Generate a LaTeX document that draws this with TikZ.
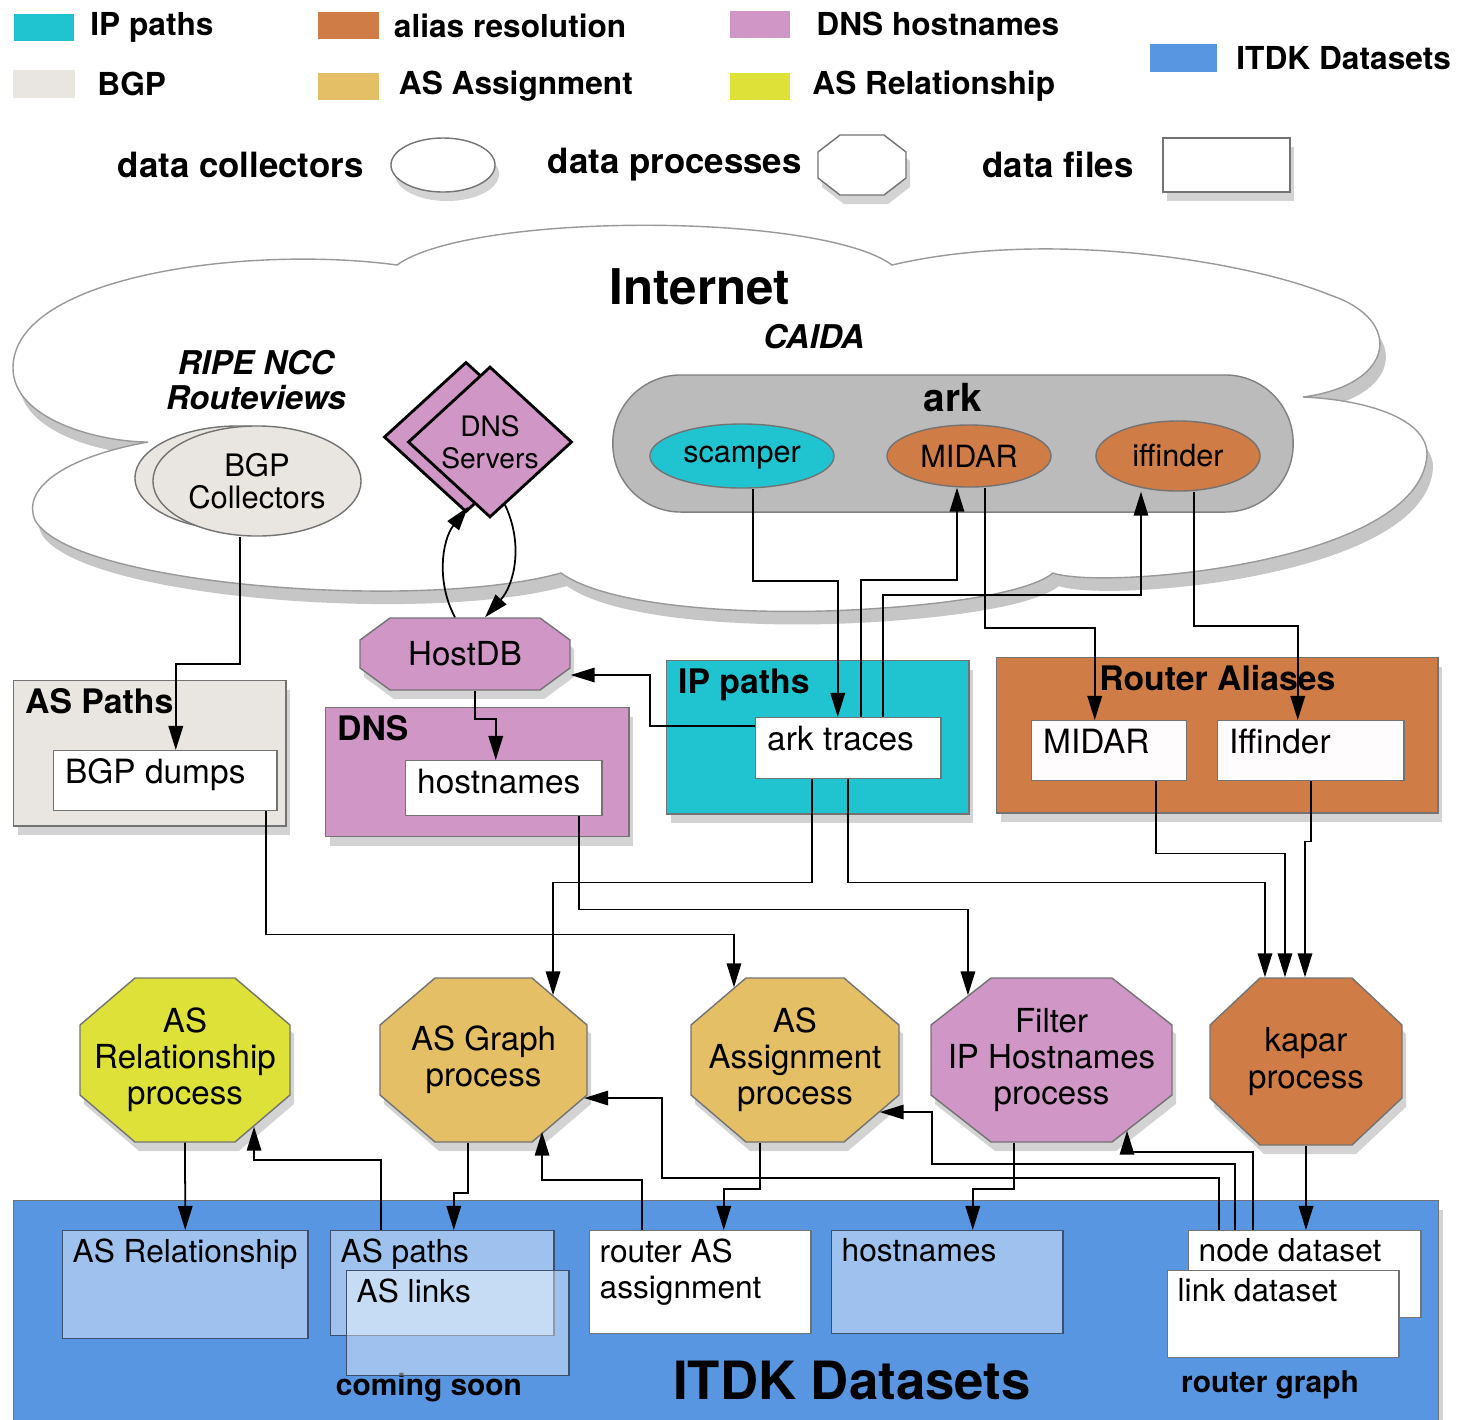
\documentclass[tikz,border=0pt]{standalone}
\usepackage{fontspec}
\setmainfont{TeX Gyre Heros}
\usepackage{tikz}
\usetikzlibrary{shapes.geometric}
\usetikzlibrary{shadows}
\usetikzlibrary{positioning}
\usetikzlibrary{arrows.meta}

\definecolor{ipcyan}{RGB}{32,196,209}
\definecolor{bgpgray}{RGB}{233,229,224}
\definecolor{aliasorange}{RGB}{207,124,70}
\definecolor{asatan}{RGB}{228,191,101}
\definecolor{dnspink}{RGB}{207,150,198}
\definecolor{relyellow}{RGB}{221,225,56}
\definecolor{itdkblue}{RGB}{89,150,225}
\definecolor{arkgray}{RGB}{187,187,187}
\definecolor{edgegray}{RGB}{115,115,115}
\definecolor{setedge}{RGB}{60,80,110}

\newcommand{\legfont}{\bfseries\fontsize{9}{10}\selectfont}
\newcommand{\keyfont}{\bfseries\fontsize{9.9}{11}\selectfont}
\newcommand{\boxfont}{\fontsize{9.5}{10.5}\selectfont}
\newcommand{\setfont}{\fontsize{9}{10.3}\selectfont}
\newcommand{\procfont}{\fontsize{9.4}{10.3}\selectfont}
\newcommand{\titlefont}{\bfseries\fontsize{9.6}{11}\selectfont}
\newcommand{\orgfont}{\bfseries\itshape\fontsize{9.3}{10}\selectfont}
\newcommand{\bigfont}{\bfseries\fontsize{14}{16}\selectfont}
\newcommand{\hugefont}{\bfseries\fontsize{15}{17}\selectfont}
\newcommand{\notefont}{\bfseries\fontsize{8.5}{10}\selectfont}
\newcommand{\arkfont}{\bfseries\fontsize{11}{12}\selectfont}
\newcommand{\ellfont}{\fontsize{8.7}{10}\selectfont}
\newcommand{\collfont}{\fontsize{8.8}{9.1}\selectfont}
\newcommand{\srvfont}{\fontsize{8}{9.1}\selectfont}

% octagon: name, fill, x, y, half width, half height, chamfer x, chamfer y, text
\newcommand{\octa}[9]{%
  \path[draw=edgegray,fill=#2,dshadow,shift={(#3,#4)}]
    (-#5+#7,-#6) -- (#5-#7,-#6) -- (#5,-#6+#8) -- (#5,#6-#8)
    -- (#5-#7,#6) -- (-#5+#7,#6) -- (-#5,#6-#8) -- (-#5,-#6+#8) -- cycle;
  \node[proctext,minimum width={2*#5*0.01cm},minimum height={2*#6*0.01cm}] (#1) at (#3,#4) {#9};}

\begin{document}
\begin{tikzpicture}[x=0.01cm,y=-0.01cm,
	>={Triangle[length=2.4mm,width=1.45mm]},
	every node/.style={font=\boxfont},
	dshadow/.style={drop shadow={shadow xshift=0.4mm,shadow yshift=-0.9mm,opacity=0.35}},
	swatch/.style={fill=#1,minimum width=0.6cm,minimum height=0.27cm,inner sep=0},
	legtext/.style={font=\legfont,inner sep=0},
	keytext/.style={font=\keyfont,inner sep=0},
	container/.style={draw=edgegray,fill=#1,anchor=north west,inner sep=0,dshadow},
	datafile/.style={draw=edgegray,fill=white,anchor=north west,inner sep=0},
	dataset/.style={draw=setedge,fill=white,fill opacity=0.42,text opacity=1,anchor=north west,inner sep=0},
	dtext/.style={anchor=north west,inner xsep=1.15mm,inner ysep=0.8mm,align=left,text opacity=1},
	ttext/.style={dtext,font=\titlefont},
	stext/.style={dtext,inner xsep=1mm,font=\setfont},
	collector/.style={ellipse,draw=edgegray,fill=#1,inner sep=0},
	server/.style={diamond,draw=black,line width=0.8pt,fill=dnspink,inner sep=0,
		minimum width=1.64cm,minimum height=1.5cm},
	proctext/.style={rectangle,inner sep=0,align=center,font=\procfont},
	wire/.style={->,line width=0.5pt}]

	\useasboundingbox (0,0) rectangle (1465,1420);

	% the Internet cloud
	\path[draw=gray!80,fill=white,drop shadow={shadow xshift=0.6mm,shadow yshift=-1.3mm,opacity=0.45}] (397,265)
		.. controls (250,245) and (13,275) .. (13,368)
		.. controls (13,420) and (100,442) .. (148,442)
		.. controls (60,458) and (22,490) .. (35,520)
		.. controls (70,585) and (420,612) .. (561,573)
		.. controls (610,608) and (750,615) .. (850,610)
		.. controls (950,605) and (1030,592) .. (1053,573)
		.. controls (1100,590) and (1420,565) .. (1427,455)
		.. controls (1428,420) and (1370,400) .. (1303,397)
		.. controls (1395,385) and (1405,320) .. (1330,295)
		.. controls (1250,262) and (1050,228) .. (892,265)
		.. controls (820,212) and (470,212) .. (397,265) -- cycle;

	\node[font=\bigfont] (internet) at (700,287) {Internet};
	\node[font=\orgfont] (caida) at (814,337) {CAIDA};
	\node[font=\orgfont,align=center] (ripe) at (256,380) {RIPE NCC\\Routeviews};

	% ark monitors
	\node[draw=gray,fill=arkgray,rounded corners=6.8mm,minimum width=6.8cm,
		minimum height=1.37cm,inner sep=0] (ark) at (953,443.5) {};
	\node[font=\arkfont] (arkt) at (953,398) {ark};
	\node[collector=ipcyan,minimum width=1.84cm,minimum height=0.64cm,font=\ellfont,text depth=0.2ex] (scamper) at (742,456) {scamper};
	\node[collector=aliasorange,minimum width=1.64cm,minimum height=0.62cm,font=\ellfont] (midar) at (969,456) {MIDAR};
	\node[collector=aliasorange,minimum width=1.64cm,minimum height=0.7cm,font=\ellfont] (iffinder) at (1178,456) {iffinder};

	% collectors and servers
	\node[collector=bgpgray,minimum width=2.06cm,minimum height=1.04cm] (bgpback) at (238,478) {};
	\node[collector=bgpgray,minimum width=2.08cm,minimum height=1.1cm,align=center,font=\collfont] (bgpcoll) at (257,481) {BGP\\Collectors};
	\node[server] (dnsback) at (466,437) {};
	\node[server,align=center,font=\srvfont] (dnsfront) at (490,442) {DNS\\Servers};

	\octa{hostdb}{dnspink}{465}{654}{105}{36}{30}{22}{HostDB}

	% data sources
	\node[container=bgpgray,minimum width=2.72cm,minimum height=1.45cm,
		label={[ttext]north west:AS Paths}] (aspaths) at (13,680) {};
	\node[container=dnspink,minimum width=3.03cm,minimum height=1.29cm,
		label={[ttext]north west:DNS}] (dns) at (325,707) {};
	\node[container=ipcyan,minimum width=3.02cm,minimum height=1.53cm,
		label={[ttext]north west:IP paths}] (ippaths) at (666,660) {};
	\node[container=aliasorange,minimum width=4.41cm,minimum height=1.55cm,
		label={[ttext,anchor=north]north:Router Aliases}] (aliases) at (996,657) {};

	\node[datafile,minimum width=2.23cm,minimum height=0.6cm,label={[dtext]north west:BGP dumps}] (bgpdumps) at (53,750) {};
	\node[datafile,minimum width=1.96cm,minimum height=0.55cm,label={[dtext]north west:hostnames}] (hostnames) at (405,760) {};
	\node[datafile,minimum width=1.85cm,minimum height=0.61cm,label={[dtext]north west:ark traces}] (arktraces) at (755,717) {};
	\node[datafile,fill=white!97!dnspink,minimum width=1.55cm,minimum height=0.6cm,label={[dtext]north west:MIDAR}] (midarf) at (1031,720) {};
	\node[datafile,fill=white!97!dnspink,minimum width=1.86cm,minimum height=0.6cm,label={[dtext]north west:Iffinder}] (iffinderf) at (1217,720) {};

	% processes
	\octa{asrelp}{relyellow}{185}{1060}{105}{82}{55}{47}{AS\\Relationship\\process}
	\octa{asgraph}{asatan}{483.5}{1060}{103.5}{82}{55}{47}{AS Graph\\process}
	\octa{asassign}{asatan}{795}{1060}{104}{82}{55}{47}{AS\\Assignment\\process}
	\octa{filterp}{dnspink}{1051.5}{1060}{120.5}{82}{60}{47}{Filter\\IP Hostnames\\process}
	\octa{kapar}{aliasorange}{1306}{1061.5}{96}{83.5}{50}{47}{kapar\\process}

	% ITDK datasets
	\node[container=itdkblue,minimum width=14.24cm,minimum height=2.35cm] (itdk) at (13,1200) {};
	\node[font=\hugefont] (itdkt) at (852,1380) {ITDK Datasets};
	\node[font=\notefont] (soon) at (429,1388) {coming soon};
	\node[font=\notefont] (rgraph) at (1270,1385) {router graph};

	\node[dataset,minimum width=2.45cm,minimum height=1.08cm,label={[stext]north west:AS Relationship}] (asreld) at (62,1230) {};
	\node[dataset,minimum width=2.23cm,minimum height=1.05cm,label={[stext]north west:AS paths}] (aspathd) at (330,1230) {};
	\node[dataset,minimum width=2.22cm,minimum height=1.05cm,label={[stext]north west:AS links}] (aslinks) at (346,1270) {};
	\node[datafile,minimum width=2.21cm,minimum height=1.03cm,label={[stext]north west:router AS\\assignment}] (routerasd) at (589,1230) {};
	\node[dataset,minimum width=2.31cm,minimum height=1.03cm,label={[stext]north west:hostnames}] (hostd) at (831,1230) {};
	\node[datafile,minimum width=2.32cm,minimum height=0.87cm,label={[stext]north west:node dataset}] (noded) at (1188,1230) {};
	\node[datafile,minimum width=2.31cm,minimum height=0.87cm,label={[stext]north west:link dataset}] (linkd) at (1167,1270) {};

	% legend
	\node[swatch=ipcyan] (lip) at (44,27) {};
	\node[legtext,right=0.15cm of lip] (lipt) {IP paths};
	\node[swatch=bgpgray,minimum width=0.62cm,minimum height=0.28cm] (lbgp) at (44,84) {};
	\node[legtext,right=0.21cm of lbgp] (lbgpt) {BGP};
	\node[swatch=aliasorange] (lalias) at (348.5,25.5) {};
	\node[legtext,right=0.14cm of lalias] (laliast) {alias resolution};
	\node[swatch=asatan] (lasa) at (348.5,86.5) {};
	\node[legtext,right=0.19cm of lasa] (lasat) {AS Assignment};
	\node[swatch=dnspink] (ldns) at (760,24) {};
	\node[legtext,right=0.25cm of ldns] (ldnst) {DNS hostnames};
	\node[swatch=relyellow] (lrel) at (760,86.5) {};
	\node[legtext,right=0.21cm of lrel] (lrelt) {AS Relationship};
	\node[swatch=itdkblue,minimum width=0.67cm,minimum height=0.28cm] (litdk) at (1183.5,58) {};
	\node[legtext,right=0.18cm of litdk] (litdkt) {ITDK Datasets};

	\node[collector=white,minimum width=1.04cm,minimum height=0.54cm,dshadow] (lcoll) at (443,165) {};
	\node[keytext,left=0.26cm of lcoll] (lcollt) {data collectors};
	\octa{lproc}{white}{862}{165}{44}{30}{22}{17}{}
	\node[keytext,left=0.15cm of lproc] (lproct) {data processes};
	\node[draw=edgegray,fill=white,minimum width=1.27cm,minimum height=0.54cm,inner sep=0,dshadow] (lfile) at (1226.5,165) {};
	\node[keytext,left=0.28cm of lfile] (lfilet) {data files};

	% connectors
	\draw[wire] ([xshift=-1.7mm]bgpcoll.south) -- ++(0,127) -| ([xshift=1.05mm]bgpdumps.north);
	\draw[wire] ([xshift=-1mm]hostdb.north) .. controls (436,582) and (442,540) .. ([xshift=-2.2mm,yshift=1.2mm]dnsfront.south);
	\draw[wire] ([xshift=1.5mm,yshift=1.4mm]dnsfront.south) .. controls (524,545) and (514,585) .. ([xshift=2mm]hostdb.north);
	\draw[wire] ([xshift=1mm]hostdb.south) -- ++(0,28) -| ([xshift=-0.8mm]hostnames.north);
	\draw[wire] ([yshift=2.25mm]arktraces.west) -- ++(-105,0) |- ([yshift=-2.1mm]hostdb.east);
	\draw[wire] ([xshift=1.1mm]scamper.south) -- ++(0,92) -| ([xshift=-1.05mm]arktraces.north);
	\draw[wire] ([xshift=1.25mm]arktraces.north) -- ++(0,-137) -| ([xshift=-1.2mm]midar.south);
	\draw[wire] ([xshift=3.45mm]arktraces.north) -- ++(0,-122) -| ([xshift=-3.7mm]iffinder.south);
	\draw[wire] ([xshift=1.6mm]midar.south) -- ++(0,140) -| ([xshift=-1.45mm]midarf.north);
	\draw[wire] ([xshift=1.6mm]iffinder.south) -- ++(0,134) -| ([xshift=-1.3mm]iffinderf.north);
	\draw[wire] ([xshift=4.65mm]midarf.south) -- ++(0,72) -| ([xshift=-2.1mm]kapar.north);
	\draw[wire] (iffinderf.south) -- ++(0,60) -| ([xshift=-0.1mm]kapar.north);
	\draw[wire] ([xshift=-3.65mm]arktraces.south) -- ++(0,103) -| ([xshift=6.95mm,yshift=-1.8mm]asgraph.north);
	\draw[wire] (arktraces.south) -- ++(0,103) -| ([xshift=-4.1mm]kapar.north);
	\draw[wire] ([xshift=7.5mm]hostnames.south) -- ++(0,93) -| ([xshift=-8.35mm,yshift=-1.8mm]filterp.north);
	\draw[wire] ([xshift=10.05mm]bgpdumps.south) -- ++(0,123) -| ([xshift=-6.1mm,yshift=-1mm]asassign.north);

	\draw[wire] (asrelp.south) -- (asreld.north);
	\draw[wire] ([xshift=-6.15mm]aspathd.north) -- ++(0,-70) -| ([xshift=6.9mm,yshift=1.6mm]asrelp.south);
	\draw[wire] ([xshift=-1.55mm]asgraph.south) -- ++(0,50) -| ([xshift=1.15mm]aspathd.north);
	\draw[wire] ([xshift=-5.85mm]routerasd.north) -- ++(0,-50) -| ([xshift=5.85mm,yshift=1.1mm]asgraph.south);
	\draw[wire] ([xshift=-8.6mm]noded.north) -- ++(0,-52) -| ([xshift=7.4mm,yshift=-3.8mm]asgraph.east)
		-- ([xshift=-0.35mm,yshift=-3.8mm]asgraph.east);
	\draw[wire] ([xshift=-7mm]noded.north) -- ++(0,-66) -| ([xshift=3.2mm,yshift=-5.2mm]asassign.east)
		-- ([xshift=-2mm,yshift=-5.2mm]asassign.east);
	\draw[wire] ([xshift=-5.2mm]noded.north) -- ++(0,-78) -| ([xshift=7.55mm,yshift=1.2mm]filterp.south);
	\draw[wire] ([xshift=-3.5mm]asassign.south) -- ++(0,46) -| ([xshift=2.35mm]routerasd.north);
	\draw[wire] ([xshift=-3.75mm]filterp.south) -- ++(0,46) -| ([xshift=2.55mm]hostd.north);
	\draw[wire] (kapar.south) -- (kapar.south |- noded.north);
\end{tikzpicture}
\end{document}
